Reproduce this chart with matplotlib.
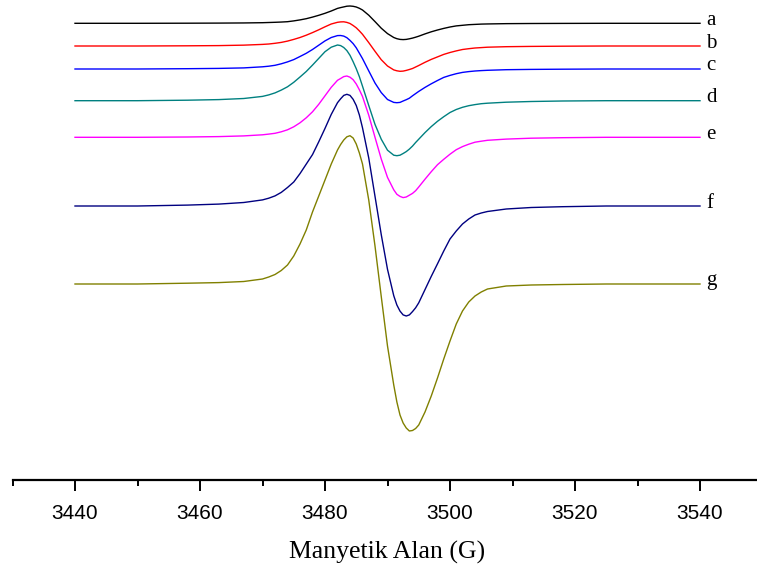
import matplotlib.pyplot as plt
from matplotlib.ticker import MultipleLocator

field = [3440, 3450, 3458, 3463, 3467,
         3470, 3471, 3472, 3473, 3474, 3475, 3476, 3477, 3478, 3479,
         3480, 3481, 3482, 3482.5, 3483, 3483.5, 3484, 3484.5, 3485, 3485.5,
         3486, 3487, 3488, 3489, 3490, 3491, 3491.5, 3492, 3492.5, 3493,
         3493.5, 3494, 3494.5, 3495, 3496, 3497, 3498, 3499,
         3500, 3501, 3502, 3503, 3504, 3505, 3506,
         3509, 3513, 3518, 3525, 3540]

# EPR signal of each sample (arbitrary units, relative to its own baseline)
sig_a = [0, 0, 0.1, 0.2, 0.35,
         0.6, 0.8, 1.0, 1.25, 1.6, 2.4, 3.4, 4.6, 6.2, 8.0,
         10.0, 12.3, 14.9, 15.7, 16.4, 17.1, 17.3, 17.0, 16.3, 15.0,
         13.3, 8.1, 1.7, -4.9, -10.3, -14.2, -15.4, -16.1, -16.3, -16.1,
         -15.5, -14.8, -13.9, -12.9, -10.6, -8.5, -6.7, -5.1,
         -3.7, -2.6, -2.0, -1.4, -1.1, -0.8, -0.65,
         -0.35, -0.2, -0.1, 0, 0]
sig_b = [0, 0, 0.2, 0.4, 0.85,
         1.6, 2.0, 2.7, 3.6, 4.9, 6.6, 8.5, 10.8, 13.4, 16.2,
         19.2, 22.0, 23.7, 24.1, 24.2, 23.6, 22.5, 20.5, 18.2, 15.1,
         11.7, 3.4, -5.3, -13.7, -20.0, -23.9, -24.8, -25.3, -25.1, -24.4,
         -23.5, -22.5, -21.0, -19.5, -16.3, -13.4, -10.9, -8.4,
         -6.5, -4.9, -3.5, -2.7, -2.0, -1.6, -1.2,
         -0.7, -0.4, -0.2, 0, 0]
sig_c = [0, 0, 0.3, 0.6, 1.1,
         2.2, 2.8, 3.7, 5.2, 7.1, 9.4, 12.5, 15.7, 19.5, 23.8,
         28.1, 31.5, 33.4, 33.5, 32.9, 31.3, 28.6, 25.4, 21.2, 15.8,
         10.4, -1.9, -14.0, -23.6, -30.5, -33.4, -33.7, -33.4, -32.0, -30.7,
         -29.2, -26.8, -24.6, -22.4, -18.4, -14.8, -11.5, -8.4,
         -6.4, -4.7, -3.4, -2.6, -2.0, -1.6, -1.3,
         -0.7, -0.4, -0.2, 0, 0]
sig_d = [0, 0, 0.5, 1.1, 2.2,
         4.3, 5.8, 7.8, 10.6, 13.9, 18.4, 23.7, 29.2, 35.6, 42.3,
         49.0, 53.5, 55.7, 55.1, 53.2, 50.1, 45.4, 39.0, 32.0, 24.0,
         14.5, -4.8, -23.7, -38.5, -49.5, -54.5, -55.0, -54.5, -52.8, -50.9,
         -48.4, -45.4, -41.8, -38.5, -31.9, -25.9, -20.6, -16.0,
         -11.8, -8.8, -6.6, -5.0, -3.9, -3.0, -2.5,
         -1.5, -0.8, -0.3, 0, 0]
sig_e = [0, 0, 0.3, 0.7, 1.4,
         2.5, 3.2, 4.0, 5.5, 7.5, 10.5, 14.5, 19.5, 25.5, 33.0,
         41.5, 50.0, 57.0, 58.8, 60.7, 61.3, 60.1, 57.6, 53.3, 47.5,
         40.8, 22.1, 0, -21.7, -40.1, -52.5, -57.0, -59.1, -60.3, -59.7,
         -57.9, -56.1, -53.4, -49.7, -41.9, -34.4, -27.4, -22.0,
         -16.9, -12.4, -9.3, -6.9, -4.9, -3.9, -3.0,
         -1.8, -0.9, -0.4, 0, 0]
sig_f = [0, 0, 0.9, 1.9, 3.5,
         6.1, 7.8, 10.1, 13.6, 18.5, 24.0, 32.4, 41.9, 51.4, 64.2,
         77.6, 91.6, 103.3, 107.2, 110.6, 111.7, 110.6, 106.7, 100.5, 91.0,
         78.2, 48.0, 9.7, -28.6, -63.3, -89.7, -99.0, -105.1, -108.9, -110,
         -108.9, -105.6, -101.8, -96.8, -83.6, -70.4, -57.8, -45,
         -33, -25, -18, -13, -9, -7, -5.5,
         -3, -1.5, -0.7, 0, 0]
sig_g = [0, 0, 0.8, 1.4, 2.5,
         5.0, 7.0, 9.5, 13.5, 19, 28, 40, 54, 72, 88,
         104, 120, 134, 139.5, 144, 147.2, 148.3, 146, 140, 131,
         120, 84, 38, -12.5, -62, -101, -118, -131, -139, -144,
         -147, -146.5, -144.5, -141, -128, -112, -94, -75,
         -57, -40, -27, -18, -12, -8, -5,
         -2, -1, -0.5, 0, 0]

signals = [sig_a, sig_b, sig_c, sig_d, sig_e, sig_f, sig_g]
offsets = [456.7, 434, 411, 379.3, 342.7, 274, 196]
labels = ["a", "b", "c", "d", "e", "f", "g"]
colors = ["black", "red", "blue", "teal", "magenta", "navy", "olive"]

fig = plt.figure(figsize=(7.57, 5.78), dpi=100)
ax = fig.add_axes([12.5 / 757, 98 / 578, 750 / 757, 480 / 578])

for sig, off, lab, col in zip(signals, offsets, labels, colors):
    ax.plot(field, [v + off for v in sig], color=col, lw=1.0)
    ax.text(3541, off + 3, lab, color="black", fontsize=15,
            family="Liberation Serif", ha="left", va="center")

ax.set_xlim(3430, 3550)
ax.set_ylim(0, 480)

for side in ["left", "right", "top"]:
    ax.spines[side].set_visible(False)
ax.spines["bottom"].set_linewidth(1.6)
ax.set_yticks([])

ax.xaxis.set_major_locator(MultipleLocator(20))
ax.xaxis.set_minor_locator(MultipleLocator(10))
ax.tick_params(axis="x", which="major", direction="out", length=8, width=1.4,
               pad=9, labelsize=15)
ax.tick_params(axis="x", which="minor", direction="out", length=4, width=1.4)
for t in ax.get_xticklabels():
    t.set_family("Liberation Sans")

fig.text(387.5 / 757, 1 - 552 / 578, "Manyetik Alan (G)", family="Liberation Serif",
         fontsize=18.5, ha="center", va="center")

fig.savefig("out.png", dpi=100)
